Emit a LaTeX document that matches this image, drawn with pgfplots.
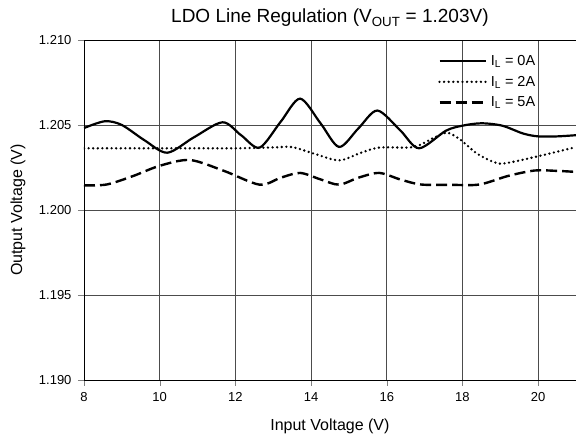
\documentclass[border=0pt]{standalone}
\usepackage{pgfplots}
\pgfplotsset{compat=1.18}
\usepackage{fontspec}
\setmainfont{Liberation Sans}

\begin{document}
\begin{tikzpicture}
\begin{axis}[
    scale only axis,
    width=495.8bp, height=340bp,
    xmin=8, xmax=21.1,
    ymin=1.190, ymax=1.210,
    xtick={8,10,...,20},
    ytick={1.190,1.195,1.200,1.205,1.210},
    scaled y ticks=false,
    yticklabel style={xshift=-3bp, /pgf/number format/.cd, fixed, fixed zerofill, precision=3},
    /pgf/number format/assume math mode=true,
    tick label style={font=\fontsize{13bp}{15bp}\selectfont},
    xticklabel style={yshift=-3bp},
    tick align=outside,
    major tick length=6bp,
    xtick pos=bottom, ytick pos=left,
    grid=major,
    major grid style={black!70, line width=0.8bp},
    axis line style={line width=0.9bp},
    title={LDO Line Regulation (V\textsubscript{OUT} = 1.203V)},
    title style={font=\fontsize{19bp}{23bp}\selectfont, at={(axis description cs:0.496,1)}, anchor=center, yshift=16bp},
    xlabel={Input Voltage (V)},
    ylabel={Output Voltage (V)},
    label style={font=\fontsize{16bp}{19bp}\selectfont},
    xlabel style={at={(axis description cs:0.496,-0.135)}, anchor=center},
    ylabel style={at={(axis description cs:-0.133,0.5)}, anchor=center},
    legend style={draw=none, fill=none, at={(axis description cs:0.708,0.967)}, anchor=north west,
        font=\fontsize{14.5bp}{17bp}\selectfont, row sep=5bp},
    legend cell align=left,
    legend image code/.code={\draw[#1] (0bp,0bp) -- (46bp,0bp);},
    legend style={nodes={inner xsep=4bp}},
]
\coordinate (bl) at (axis cs:8,1.190);
\coordinate (tr) at (axis cs:21,1.210);

\addplot[black, line width=2.2bp, smooth] coordinates {
    (8.0,1.20482) (8.55,1.20522) (9.0,1.20500) (9.6,1.20410) (10.2,1.20337)
    (10.9,1.20427) (11.66,1.20516) (12.15,1.20440) (12.64,1.20367)
    (13.2,1.20520) (13.71,1.20655) (14.25,1.20510) (14.74,1.20371)
    (15.25,1.20480) (15.75,1.20585) (16.35,1.20470) (16.85,1.20363)
    (17.56,1.20466) (18.0,1.20496) (18.5,1.20510) (19.05,1.20496)
    (19.6,1.20450) (20.0,1.20433) (20.5,1.20433) (21.0,1.20440)
};
\addlegendentry{I\textsubscript{L} = 0A}

\addplot[black, line width=2.6bp, line cap=round, dash pattern=on 0bp off 4.6bp, smooth] coordinates {
    (8.0,1.20363) (9.0,1.20363) (10.0,1.20363) (11.0,1.20363) (12.0,1.20363)
    (13.0,1.20368) (13.5,1.20370) (14.1,1.20330) (14.74,1.20292)
    (15.3,1.20335) (15.8,1.20367) (16.7,1.20370) (17.2,1.20420)
    (17.58,1.20455) (17.93,1.20416) (18.37,1.20334) (18.8,1.20284)
    (19.1,1.20274) (19.94,1.20313) (21.0,1.20370)
};
\addlegendentry{I\textsubscript{L} = 2A}

\addplot[black, line width=2.4bp, dash pattern=on 11bp off 5bp, smooth] coordinates {
    (8.0,1.20145) (8.6,1.20150) (9.3,1.20200) (10.0,1.20260) (10.8,1.20294)
    (11.7,1.20230) (12.64,1.20149) (13.2,1.20190) (13.71,1.20218)
    (14.25,1.20180) (14.74,1.20149) (15.25,1.20190) (15.8,1.20218)
    (16.35,1.20180) (16.9,1.20150) (17.7,1.20148) (18.45,1.20150)
    (19.2,1.20200) (19.9,1.20232) (20.5,1.20230) (21.0,1.20224)
};
\addlegendentry{I\textsubscript{L} = 5A}
\end{axis}
\pgfresetboundingbox
\path ([shift={(-84bp,-61bp)}]bl) rectangle ([shift={(0bp,40bp)}]tr);
\end{tikzpicture}
\end{document}
